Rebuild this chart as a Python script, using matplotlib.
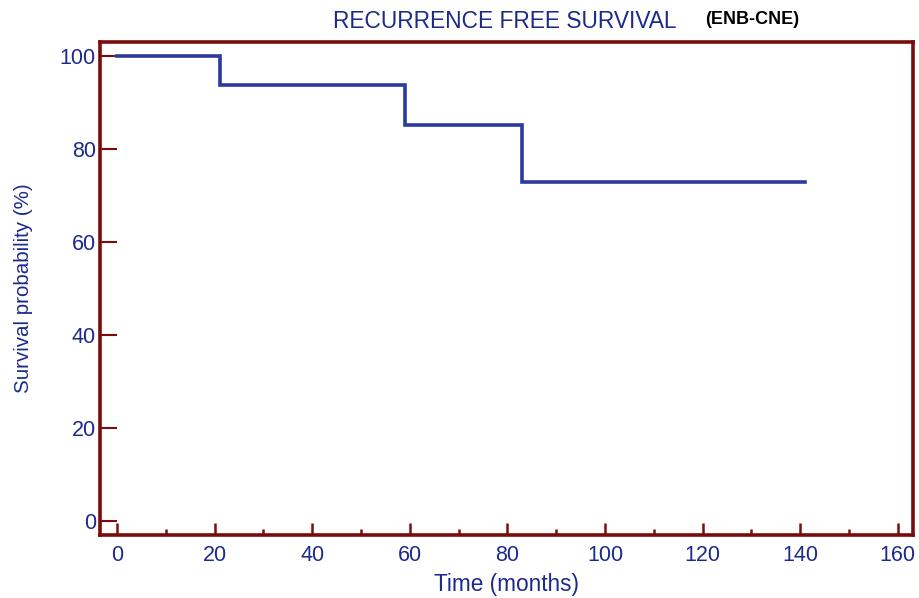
import matplotlib
matplotlib.use("Agg")
import matplotlib.pyplot as plt
from matplotlib.ticker import MultipleLocator

# Data (Kaplan-Meier recurrence free survival)
times = [0, 21, 59, 83, 141]
survival = [100, 93.75, 85.2, 73.0, 73.0]
x_ticks = [0, 20, 40, 60, 80, 100, 120, 140, 160]
y_ticks = [0, 20, 40, 60, 80, 100]

NAVY = "#1c2a8c"
LINE = "#2a3a9e"
MAROON = "#7a0c0c"

plt.rcParams['font.family'] = ['Liberation Sans', 'DejaVu Sans']

fig = plt.figure(figsize=(9.2, 5.98), dpi=100)
ax = fig.add_axes([100/920, 63/598, 813/920, 493/598])

ax.step(times, survival, where='post', color=LINE, linewidth=2.6,
        solid_joinstyle='miter')

ax.set_xlim(-3.5, 163.1)
ax.set_ylim(-2.9, 103.0)
ax.set_xticks(x_ticks)
ax.set_yticks(y_ticks)
ax.xaxis.set_minor_locator(MultipleLocator(10))

for s in ax.spines.values():
    s.set_color(MAROON)
    s.set_linewidth(2.6)

ax.tick_params(axis='x', which='major', direction='in', length=9, width=1.8,
               color=MAROON, labelcolor=NAVY, labelsize=15.5, pad=7,
               top=False)
ax.tick_params(axis='x', which='minor', direction='in', length=4.5, width=1.8,
               color=MAROON, top=False)
ax.tick_params(axis='y', which='major', direction='in', length=12, width=1.5,
               color=MAROON, labelcolor=NAVY, labelsize=15.5, pad=3,
               right=False)

ax.set_xlabel("Time (months)", color=NAVY, fontsize=16.3, labelpad=5)
ax.set_ylabel("Survival probability (%)", color=NAVY, fontsize=14.8, labelpad=19)

fig.text(333/920, 1 - 21/598, "RECURRENCE FREE SURVIVAL", color=NAVY,
         fontsize=16.4, ha='left', va='center')
fig.text(705/920, 1 - 20/598, "(ENB-CNE)", color='black', fontsize=13,
         fontweight='bold', ha='left', va='center')

fig.savefig("out.png", dpi=100)
